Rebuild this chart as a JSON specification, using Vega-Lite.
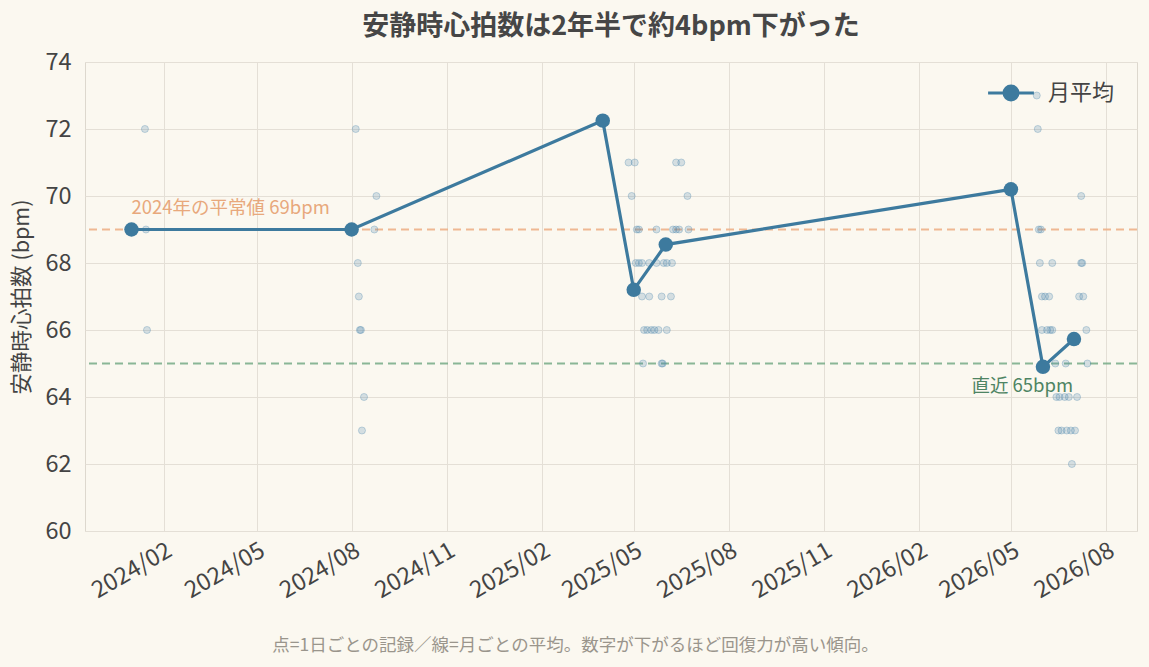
{
  "$schema": "https://vega.github.io/schema/vega-lite/v6.json",
  "width": 1052,
  "height": 469,
  "autosize": "none",
  "padding": {"left": 85, "top": 62, "right": 12, "bottom": 136},
  "background": "#FBF8F0",
  "title": {
    "text": "安静時心拍数は2年半で約4bpm下がった",
    "font": "Noto Sans CJK JP",
    "fontSize": 27,
    "fontWeight": "bold",
    "color": "#464646",
    "offset": 9
  },
  "config": {
    "font": "Noto Sans CJK JP",
    "view": {"stroke": "#DDD8CE", "strokeWidth": 1},
    "axis": {
      "gridColor": "#E4DFD6",
      "gridWidth": 1,
      "domain": false,
      "ticks": false,
      "labelColor": "#444444",
      "labelFontSize": 23.5,
      "titleColor": "#444444",
      "titleFontWeight": "normal"
    },
    "legend": {"labelFontSize": 22, "labelColor": "#444444"}
  },
  "datasets": {
    "daily": [
      {"date": "2024-01-14", "bpm": 72}, {"date": "2024-01-15", "bpm": 69}, {"date": "2024-01-16", "bpm": 66},
      {"date": "2024-08-05", "bpm": 72}, {"date": "2024-08-07", "bpm": 68}, {"date": "2024-08-08", "bpm": 67},
      {"date": "2024-08-09", "bpm": 66}, {"date": "2024-08-10", "bpm": 66}, {"date": "2024-08-11", "bpm": 63},
      {"date": "2024-08-13", "bpm": 64}, {"date": "2024-08-23", "bpm": 69}, {"date": "2024-08-25", "bpm": 70},
      {"date": "2025-04-26", "bpm": 71}, {"date": "2025-05-02", "bpm": 71}, {"date": "2025-06-11", "bpm": 71}, {"date": "2025-06-16", "bpm": 71},
      {"date": "2025-04-29", "bpm": 70}, {"date": "2025-06-22", "bpm": 70},
      {"date": "2025-05-04", "bpm": 69}, {"date": "2025-05-06", "bpm": 69}, {"date": "2025-05-23", "bpm": 69}, {"date": "2025-06-08", "bpm": 69},
      {"date": "2025-06-11", "bpm": 69}, {"date": "2025-06-14", "bpm": 69}, {"date": "2025-06-23", "bpm": 69},
      {"date": "2025-05-03", "bpm": 68}, {"date": "2025-05-06", "bpm": 68}, {"date": "2025-05-09", "bpm": 68}, {"date": "2025-05-16", "bpm": 68},
      {"date": "2025-05-23", "bpm": 68}, {"date": "2025-05-30", "bpm": 68}, {"date": "2025-06-02", "bpm": 68}, {"date": "2025-06-07", "bpm": 68},
      {"date": "2025-05-09", "bpm": 67}, {"date": "2025-05-16", "bpm": 67}, {"date": "2025-05-28", "bpm": 67}, {"date": "2025-06-06", "bpm": 67},
      {"date": "2025-05-11", "bpm": 66}, {"date": "2025-05-14", "bpm": 66}, {"date": "2025-05-18", "bpm": 66}, {"date": "2025-05-21", "bpm": 66},
      {"date": "2025-05-25", "bpm": 66}, {"date": "2025-06-02", "bpm": 66},
      {"date": "2025-05-10", "bpm": 65}, {"date": "2025-05-28", "bpm": 65}, {"date": "2025-05-29", "bpm": 65},
      {"date": "2026-05-26", "bpm": 73}, {"date": "2026-05-27", "bpm": 72}, {"date": "2026-07-08", "bpm": 70},
      {"date": "2026-05-28", "bpm": 69}, {"date": "2026-05-30", "bpm": 69},
      {"date": "2026-05-29", "bpm": 68}, {"date": "2026-06-10", "bpm": 68}, {"date": "2026-07-08", "bpm": 68}, {"date": "2026-07-09", "bpm": 68},
      {"date": "2026-05-31", "bpm": 67}, {"date": "2026-06-03", "bpm": 67}, {"date": "2026-06-07", "bpm": 67}, {"date": "2026-07-06", "bpm": 67}, {"date": "2026-07-10", "bpm": 67},
      {"date": "2026-05-31", "bpm": 66}, {"date": "2026-06-05", "bpm": 66}, {"date": "2026-06-08", "bpm": 66}, {"date": "2026-06-10", "bpm": 66}, {"date": "2026-07-13", "bpm": 66},
      {"date": "2026-05-31", "bpm": 65}, {"date": "2026-06-13", "bpm": 65}, {"date": "2026-06-23", "bpm": 65}, {"date": "2026-07-14", "bpm": 65},
      {"date": "2026-06-14", "bpm": 64}, {"date": "2026-06-17", "bpm": 64}, {"date": "2026-06-22", "bpm": 64}, {"date": "2026-06-26", "bpm": 64}, {"date": "2026-07-04", "bpm": 64},
      {"date": "2026-06-16", "bpm": 63}, {"date": "2026-06-19", "bpm": 63}, {"date": "2026-06-24", "bpm": 63}, {"date": "2026-06-28", "bpm": 63}, {"date": "2026-07-02", "bpm": 63},
      {"date": "2026-06-29", "bpm": 62}
    ],
    "monthly": [
      {"date": "2024-01-01", "bpm": 69.0, "series": "月平均"},
      {"date": "2024-08-01", "bpm": 69.0, "series": "月平均"},
      {"date": "2025-04-01", "bpm": 72.25, "series": "月平均"},
      {"date": "2025-05-01", "bpm": 67.2, "series": "月平均"},
      {"date": "2025-06-01", "bpm": 68.55, "series": "月平均"},
      {"date": "2026-05-01", "bpm": 70.2, "series": "月平均"},
      {"date": "2026-06-01", "bpm": 64.9, "series": "月平均"},
      {"date": "2026-07-01", "bpm": 65.73, "series": "月平均"}
    ]
  },
  "encoding": {
    "x": {
      "field": "date",
      "type": "temporal",
      "scale": {
        "type": "utc",
        "domain": [
          {"year": 2023, "month": 11, "date": 17, "utc": true},
          {"year": 2026, "month": 8, "date": 31, "utc": true}
        ]
      },
      "axis": {
        "values": [
          {"year": 2024, "month": 2, "date": 1, "utc": true},
          {"year": 2024, "month": 5, "date": 1, "utc": true},
          {"year": 2024, "month": 8, "date": 1, "utc": true},
          {"year": 2024, "month": 11, "date": 1, "utc": true},
          {"year": 2025, "month": 2, "date": 1, "utc": true},
          {"year": 2025, "month": 5, "date": 1, "utc": true},
          {"year": 2025, "month": 8, "date": 1, "utc": true},
          {"year": 2025, "month": 11, "date": 1, "utc": true},
          {"year": 2026, "month": 2, "date": 1, "utc": true},
          {"year": 2026, "month": 5, "date": 1, "utc": true},
          {"year": 2026, "month": 8, "date": 1, "utc": true}
        ],
        "format": "%Y/%m",
        "labelAngle": -30,
        "labelAlign": "right",
        "labelBaseline": "top",
        "labelPadding": 7,
        "title": "点=1日ごとの記録／線=月ごとの平均。数字が下がるほど回復力が高い傾向。",
        "titleFontSize": 17.5,
        "titleColor": "#9A958C",
        "titleX": 490,
        "titleY": 114,
        "titleBaseline": "middle"
      }
    },
    "y": {
      "field": "bpm",
      "type": "quantitative",
      "scale": {"domain": [60, 74], "nice": false},
      "axis": {
        "values": [60, 62, 64, 66, 68, 70, 72, 74],
        "labelPadding": 14,
        "title": "安静時心拍数 (bpm)",
        "titleFontSize": 21.5,
        "titlePadding": 11
      }
    }
  },
  "layer": [
    {
      "data": {"values": [{"bpm": 69}]},
      "mark": {"type": "rule", "strokeDash": [8, 5], "strokeWidth": 2, "color": "#EDB088", "opacity": 0.9},
      "encoding": {"x": null}
    },
    {
      "data": {"values": [{"bpm": 65}]},
      "mark": {"type": "rule", "strokeDash": [8, 5], "strokeWidth": 2, "color": "#7DAE8C", "opacity": 0.9},
      "encoding": {"x": null}
    },
    {
      "data": {"name": "daily"},
      "mark": {"type": "circle", "size": 50, "color": "#4A86AB", "fillOpacity": 0.22, "stroke": "#4A86AB", "strokeOpacity": 0.3, "strokeWidth": 1}
    },
    {
      "data": {"name": "monthly"},
      "mark": {"type": "line", "strokeWidth": 3.2},
      "encoding": {
        "color": {
          "field": "series",
          "type": "nominal",
          "scale": {"domain": ["月平均"], "range": ["#3D7A9E"]},
          "legend": {
            "title": null,
            "orient": "none",
            "legendX": 901,
            "legendY": 6,
            "symbolType": "M-1,0L1,0M-0.3,0A0.3,0.3,0,1,1,0.3,0A0.3,0.3,0,1,1,-0.3,0Z",
            "symbolSize": 2100,
            "symbolStrokeWidth": 3.2,
            "symbolFillColor": "#3D7A9E",
            "symbolStrokeColor": "#3D7A9E",
            "labelOffset": 12
          }
        }
      }
    },
    {
      "data": {"name": "monthly"},
      "mark": {"type": "circle", "size": 210, "color": "#3D7A9E", "opacity": 1}
    },
    {
      "data": {"values": [{"date": "2024-01-01", "bpm": 69, "label": "2024年の平常値 69bpm"}]},
      "mark": {"type": "text", "fontSize": 18.5, "baseline": "middle", "align": "left", "dy": -22, "color": "#E8A87C"},
      "encoding": {"text": {"field": "label"}}
    },
    {
      "data": {"values": [{"date": "2026-05-12", "bpm": 65, "label": "直近 65bpm"}]},
      "mark": {"type": "text", "fontSize": 18.5, "baseline": "middle", "align": "center", "dy": 22, "color": "#4E8463"},
      "encoding": {"text": {"field": "label"}}
    }
  ]
}
